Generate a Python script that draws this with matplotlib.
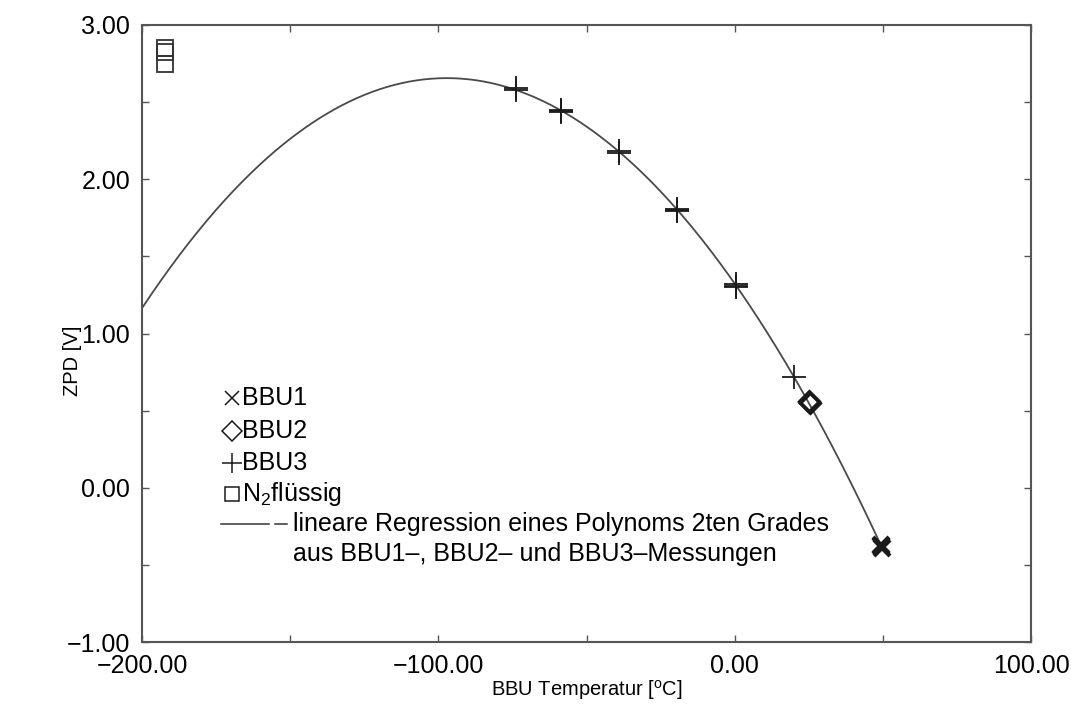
import numpy as np
import matplotlib
matplotlib.use("Agg")
import matplotlib.pyplot as plt
from matplotlib.ticker import MultipleLocator, FuncFormatter

# measured ZPD voltage vs. blackbody temperature (repeated readings overlap)
bbu1_t = [49.2, 49.6, 49.4]
bbu1_v = [-0.37, -0.39, -0.38]
bbu2_t = [25.0, 25.3, 25.1]
bbu2_v = [0.56, 0.55, 0.555]
bbu3_t = [-73.8, -73.8, -58.6, -58.6, -58.6, -39.0, -39.0,
          -19.4, -19.4, -19.4, 0.5, 0.5, 0.5, 20.0]
bbu3_v = [2.59, 2.58, 2.45, 2.44, 2.435, 2.18, 2.17,
          1.805, 1.80, 1.795, 1.32, 1.31, 1.30, 0.715]
n2_t = [-192.2, -192.2, -192.2]
n2_v = [2.851, 2.825, 2.747]

legend_rows = ["BBU1", "BBU2", "BBU3", r"N$_2$flüssig"]
fit_text = ["lineare Regression eines Polynoms 2ten Grades",
            "aus BBU1\u2013, BBU2\u2013 und BBU3\u2013Messungen"]

plt.rcParams["font.family"] = ["Liberation Sans", "DejaVu Sans"]
plt.rcParams["mathtext.fontset"] = "custom"
plt.rcParams["mathtext.rm"] = "Liberation Sans"
plt.rcParams["mathtext.it"] = "Liberation Sans"

fig = plt.figure(figsize=(10.71, 7.12), dpi=100)
ax = fig.add_axes([0.1326, 0.0983, 0.8301, 0.8666])

# quadratic least-squares fit through all BBU readings
t_all = np.array(bbu1_t + bbu2_t + bbu3_t)
v_all = np.array(bbu1_v + bbu2_v + bbu3_v)
coef = np.polyfit(t_all, v_all, 2)
t_fit = np.linspace(-200, max(bbu1_t), 400)
ax.plot(t_fit, np.polyval(coef, t_fit), color="#4a4a4a", lw=1.3, zorder=2)

ink = "#1a1a1a"
ax.plot(bbu1_t, bbu1_v, ls="none", marker="x", ms=12, mew=3, color=ink, zorder=3)
ax.plot(bbu2_t, bbu2_v, ls="none", marker="D", ms=10, mew=2.2, mfc="none", mec=ink, zorder=3)
ax.plot(bbu3_t, bbu3_v, ls="none", marker="+", ms=17, mew=1.3, color=ink, zorder=3)
ax.plot(n2_t, n2_v, ls="none", marker="s", ms=11.5, mew=1.3, mfc="none", mec="#333333", zorder=3)


def two_dec(v, pos):
    return f"{v:.2f}".replace("-", "\u2212")


ax.set_xlim(-200, 100)
ax.set_ylim(-1, 3)
ax.xaxis.set_major_locator(MultipleLocator(100))
ax.xaxis.set_minor_locator(MultipleLocator(50))
ax.yaxis.set_major_locator(MultipleLocator(1))
ax.yaxis.set_minor_locator(MultipleLocator(0.5))
ax.xaxis.set_major_formatter(FuncFormatter(two_dec))
ax.yaxis.set_major_formatter(FuncFormatter(two_dec))
ax.tick_params(which="both", direction="in", top=True, right=True,
               length=5, width=1.0, color="#555555", labelsize=18)
ax.tick_params(axis="x", pad=8.5)
ax.tick_params(axis="y", pad=8.5)
for s in ax.spines.values():
    s.set_color("#555555")
    s.set_linewidth(1.5)

ax.set_xlabel("BBU Temperatur [$^{\\rm o}$C]", fontsize=14.5, va="top")
ax.xaxis.set_label_coords(0.5, -0.058)
ax.set_ylabel("ZPD [V]", fontsize=14.5)
ax.yaxis.set_label_coords(-0.068, 0.455)

# hand-set key inside the plot area
sym_x, txt_x = -169.6, -166.3
rows_y = [0.582, 0.368, 0.160, -0.040]
syms = ["x", "D", "+", "s"]
sizes = [10, 10, 14, 10]
for ys, m, ms, lab in zip(rows_y, syms, sizes, legend_rows):
    ax.plot([sym_x], [ys], marker=m, ms=ms, mew=1.1, mfc="none",
            color=ink, ls="none", clip_on=False)
    ax.text(txt_x, ys, lab, fontsize=18, va="center", ha="left")
ax.plot([-173.5, -157.3], [-0.235, -0.235], color="#333333", lw=1.1)
ax.plot([-155.0, -151.0], [-0.235, -0.235], color="#333333", lw=1.1)
ax.text(-149.0, -0.235, fit_text[0], fontsize=18, va="center", ha="left")
ax.text(-149.0, -0.430, fit_text[1], fontsize=18, va="center", ha="left")

fig.savefig("out.png", dpi=100)
